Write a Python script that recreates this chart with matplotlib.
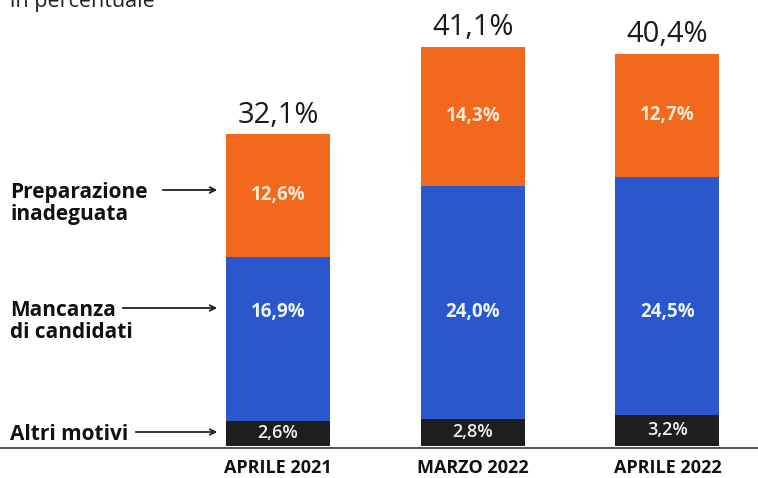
import matplotlib
matplotlib.use("Agg")
import matplotlib.pyplot as plt

periods = ["APRILE 2021", "MARZO 2022", "APRILE 2022"]
altri = [2.6, 2.8, 3.2]
mancanza = [16.9, 24.0, 24.5]
preparazione = [12.6, 14.3, 12.7]
totals = [32.1, 41.1, 40.4]
series_names = [["Preparazione", "inadeguata"], ["Mancanza", "di candidati"], ["Altri motivi"]]

def fmt(v):
    return f"{v:.1f}".replace(".", ",") + "%"

W, H = 758, 478
fig = plt.figure(figsize=(W / 100, H / 100), dpi=100)
fig.patch.set_facecolor("white")

base_px = 446
px_per_unit = 9.71
ax = fig.add_axes([0, 1 - base_px / H, 1, base_px / H])
ax.set_ylim(0, base_px / px_per_unit)
spacing = 194.75
first_c = 278
ax.set_xlim(-first_c / spacing, 2 + (W - 667.5) / spacing)
ax.axis("off")

xs = list(range(len(periods)))
bw = 104 / spacing
black = "#1e1e1e"
blue = "#2a58cc"
orange = "#f2681c"
ax.bar(xs, altri, width=bw, color=black)
ax.bar(xs, mancanza, width=bw, bottom=altri, color=blue)
bottoms2 = [a + m for a, m in zip(altri, mancanza)]
ax.bar(xs, preparazione, width=bw, bottom=bottoms2, color=orange)

fam = ["Open Sans", "DejaVu Sans"]
for i in xs:
    ax.text(i, altri[i] / 2, fmt(altri[i]), ha="center", va="center",
            color="#f0f0f0", fontsize=13, family=fam, fontweight="semibold")
    ax.text(i, 13.8, fmt(mancanza[i]), ha="center", va="center",
            color="#eef4ff", fontsize=13.5, family=fam, fontweight="bold")
    ax.text(i, bottoms2[i] + preparazione[i] / 2, fmt(preparazione[i]), ha="center",
            va="center", color="#fde9cf", fontsize=13.5, family=fam, fontweight="bold")
    ax.text(i, totals[i] + 1.2, fmt(totals[i]), ha="center", va="baseline",
            color="#1a1a1a", fontsize=21, family=fam)

# baseline
fig.add_artist(plt.Line2D([0, 1], [1 - 448 / H, 1 - 448 / H], color="#555555", lw=1.4))

# category labels
for i, p in enumerate(periods):
    xc = (first_c + i * spacing) / W
    fig.text(xc, 1 - 468 / H, p, ha="center", va="center", fontsize=13,
             fontweight="bold", family=fam, color="#111111")

# series labels with arrows
lab_specs = [
    (series_names[0], 10, 198, 160, 190),
    (series_names[1], 10, 316, 120, 308),
    (series_names[2], 10, 440, 133, 432),
]
line_gap = 22
for lines, x0, yb, ax0, ay in lab_specs:
    for k, ln in enumerate(lines):
        fig.text(x0 / W, 1 - (yb + k * line_gap) / H, ln, ha="left", va="baseline",
                 fontsize=15, fontweight="bold", family=fam, color="#111111")
    fig.add_artist(matplotlib.patches.FancyArrowPatch(
        (ax0 / W, 1 - ay / H), (220 / W, 1 - ay / H), transform=fig.transFigure,
        arrowstyle="->", mutation_scale=10, color="#222222", lw=1.3))

fig.text(10 / W, 1 - 7 / H, "in percentuale", ha="left", va="baseline",
         fontsize=15.5, family=fam, color="#222222")

fig.savefig("out.png", dpi=100, facecolor="white")
